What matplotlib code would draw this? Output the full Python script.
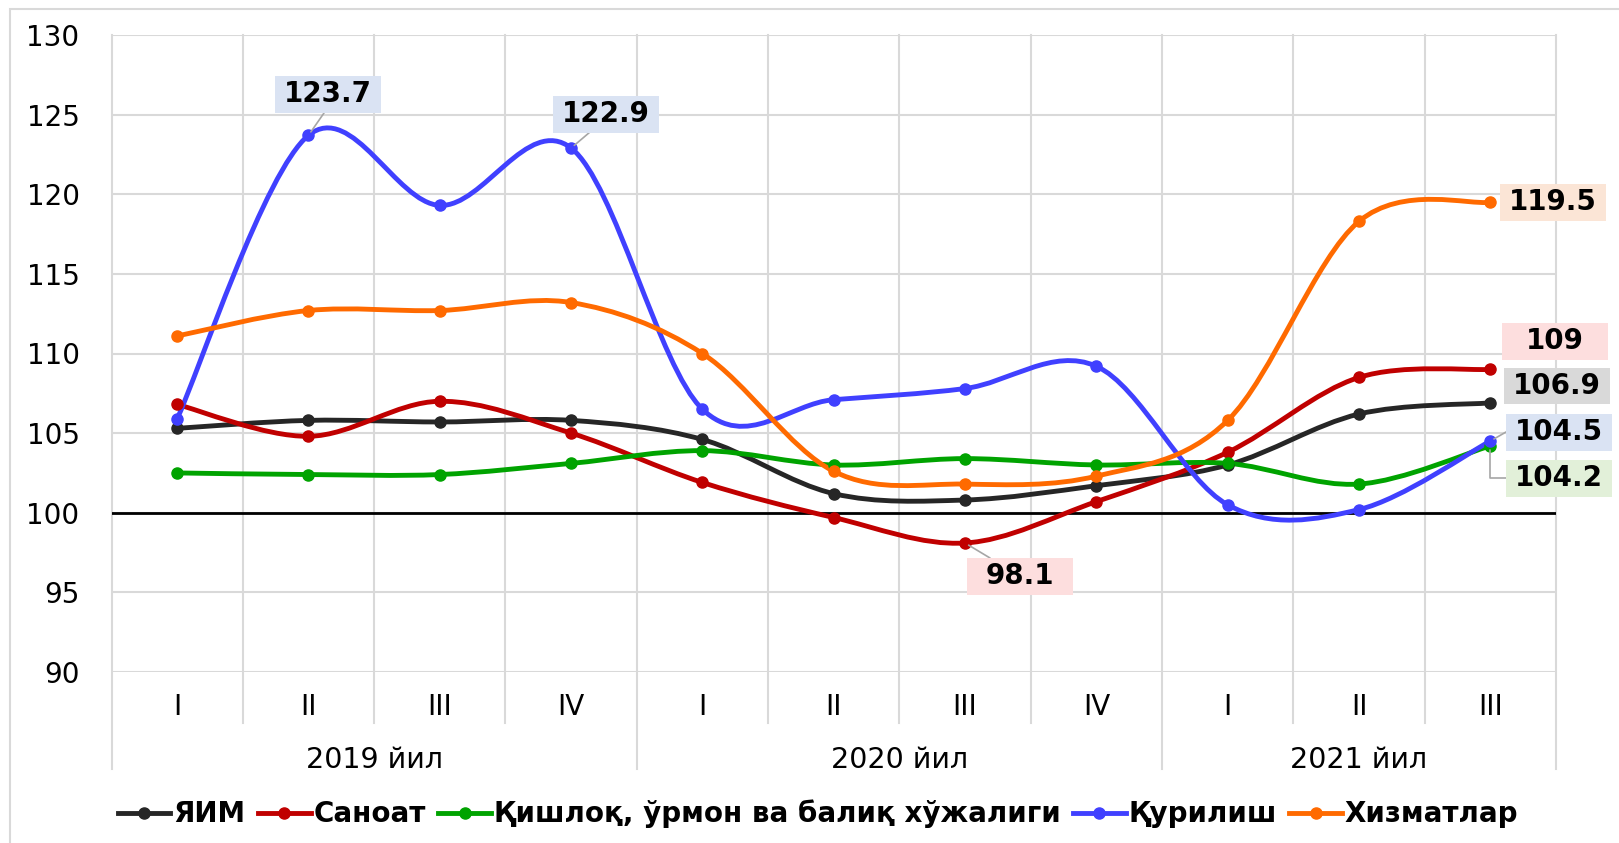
import numpy as np
import matplotlib
matplotlib.use("Agg")
import matplotlib.pyplot as plt
from matplotlib.path import Path
from matplotlib.patches import PathPatch, Rectangle
from matplotlib.lines import Line2D

plt.rcParams['font.family'] = ['DejaVu Sans']

# Маълумотлар (ўсиш суръати, %)
quarters = ["I", "II", "III", "IV", "I", "II", "III", "IV", "I", "II", "III"]
years = ["2019 йил", "2020 йил", "2021 йил"]
year_span = [(0, 3), (4, 7), (8, 10)]

yaim = [105.3, 105.8, 105.7, 105.8, 104.6, 101.2, 100.8, 101.7, 103.0, 106.2, 106.9]
sanoat = [106.8, 104.8, 107.0, 105.0, 101.9, 99.7, 98.1, 100.7, 103.8, 108.5, 109.0]
qishloq = [102.5, 102.4, 102.4, 103.1, 103.9, 103.0, 103.4, 103.0, 103.1, 101.8, 104.2]
qurilish = [105.9, 123.7, 119.3, 122.9, 106.5, 107.1, 107.8, 109.2, 100.5, 100.2, 104.5]
xizmat = [111.1, 112.7, 112.7, 113.2, 110.0, 102.6, 101.8, 102.3, 105.8, 118.3, 119.5]

names = ["ЯИМ", "Саноат", "Қишлоқ, ўрмон ва балиқ хўжалиги", "Қурилиш", "Хизматлар"]
series = [yaim, sanoat, qishloq, qurilish, xizmat]
colors = ["#262626", "#c00000", "#00a300", "#4040ff", "#ff6a00"]

W, H = 1619, 843
grid_c = "#d9d9d9"


def smooth_path(xs, ys):
    # Excel'даги текис чизиқ (Catmull-Rom -> Bezier)
    p = np.column_stack([xs, ys]).astype(float)
    n = len(p)
    verts = [p[0]]
    codes = [Path.MOVETO]
    for i in range(n - 1):
        p0 = p[i - 1] if i > 0 else p[i]
        p3 = p[i + 2] if i + 2 < n else p[i + 1]
        c1 = p[i] + (p[i + 1] - p0) / 6
        c2 = p[i + 1] - (p3 - p[i]) / 6
        verts += [c1, c2, p[i + 1]]
        codes += [Path.CURVE4] * 3
    return Path(verts, codes)


fig = plt.figure(figsize=(W / 100, H / 100), dpi=100)
ax = fig.add_axes([111.5 / W, 1 - 672 / H, (1556 - 111.5) / W, (672 - 35) / H])

x = np.arange(len(quarters))
for vals, c in zip(series, colors):
    ax.add_patch(PathPatch(smooth_path(x, vals), fill=False, ec=c, lw=3.5,
                           capstyle="round", joinstyle="round", zorder=3))
    ax.plot(x, vals, "o", color=c, ms=8, zorder=4)

ax.axhline(100, color="black", lw=2, zorder=2)

ax.set_xlim(-0.5, 10.5)
ax.set_ylim(90, 130)
ax.set_yticks(np.arange(90, 131, 5))
ax.yaxis.grid(True, color=grid_c, lw=1.5, zorder=0)
ax.set_axisbelow(True)
for s in ax.spines.values():
    s.set_visible(False)
ax.tick_params(axis="y", length=0, pad=23, labelsize=20, labelcolor="black")
ax.set_xticks(x)
ax.set_xticklabels(quarters)
ax.tick_params(axis="x", length=0, pad=15, labelsize=20, labelcolor="black")

# вертикал ажратгичлар
trans = ax.get_xaxis_transform()
groups = [-0.5, 3.5, 7.5, 10.5]
for b in np.arange(-0.5, 11):
    lo = -0.152 if b in groups else -0.08
    ax.plot([b, b], [lo, 1], transform=trans, color=grid_c, lw=1.5,
            clip_on=False, zorder=0.5)

for yr, (a, b) in zip(years, year_span):
    ax.text((a + b) / 2, -0.138, yr, transform=trans, ha="center", va="center",
            fontsize=20.5, color="black")

# маълумот белгилари
labels = [
    ("123.7", 1, qurilish[1], (328, 94), "#dae3f3", (324, 113)),
    ("122.9", 3, qurilish[3], (606, 114), "#dae3f3", (590, 132)),
    ("98.1", 6, sanoat[6], (1020, 576), "#fddede", (990, 558)),
    ("119.5", 10, xizmat[10], (1553, 202), "#fbe5d6", None),
    ("109", 10, sanoat[10], (1555, 341), "#fddede", None),
    ("106.9", 10, yaim[10], (1557, 386), "#d9d9d9", None),
    ("104.5", 10, qurilish[10], (1559, 432), "#dae3f3", (1506, 432)),
    ("104.2", 10, qishloq[10], (1559, 478), "#e2f0d9", (1506, 478)),
]
bw, bh = 106, 37
for txt, xi, val, (cx, cy), fc, edge in labels:
    ax.add_patch(Rectangle(((cx - bw / 2) / W, 1 - (cy + bh / 2) / H), bw / W, bh / H,
                           transform=fig.transFigure, fc=fc, ec="none",
                           clip_on=False, zorder=6))
    ax.annotate(txt, xy=(cx / W, 1 - cy / H), xycoords="figure fraction",
                ha="center", va="center", fontsize=20, fontweight="bold",
                zorder=7, annotation_clip=False)
    if edge is not None:
        cs = "angle,angleA=0,angleB=90" if txt == "104.2" else "arc3"
        ax.annotate("", xy=(xi, val), xycoords="data",
                    xytext=(edge[0] / W, 1 - edge[1] / H), textcoords="figure fraction",
                    arrowprops=dict(arrowstyle="-", color="#a6a6a6", lw=1.2,
                                    shrinkA=0, shrinkB=3, connectionstyle=cs),
                    annotation_clip=False, zorder=5)

handles = [Line2D([], [], color=c, lw=3.5, marker="o", ms=8) for c in colors]
fig.legend(handles, names, loc="center", bbox_to_anchor=(818 / W, 1 - 814 / H),
           ncol=5, frameon=False, handlelength=1.9, handletextpad=0.1,
           columnspacing=0.45, prop={"size": 20, "weight": "bold"})

fig.add_artist(Rectangle((10 / W, -0.1), 1.5, 1.1 - 9 / H, transform=fig.transFigure,
                         fill=False, ec=grid_c, lw=1.5))

fig.savefig("out.png", dpi=100)
